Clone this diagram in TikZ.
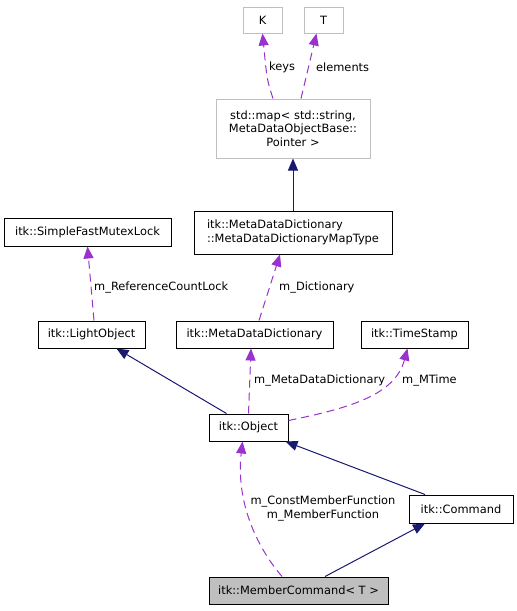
\documentclass[tikz,border=0pt]{standalone}
\usepackage{fontspec}
\setmainfont{DejaVu Sans}
\usetikzlibrary{arrows.meta}

\definecolor{edgeblue}{HTML}{191970}
\definecolor{edgepurple}{HTML}{9A32CD}
\definecolor{boxgray}{HTML}{BFBFBF}

\begin{document}
\begin{tikzpicture}[x=1pt, y=-1pt,
	font=\fontsize{11.4}{13.5}\selectfont,
	cls/.style={draw=black, line width=1pt, fill=white, inner sep=0pt, align=center},
	ext/.style={cls, draw=boxgray},
	cur/.style={cls, fill=boxgray},
	lbl/.style={inner sep=0pt, anchor=west},
	inherit/.style={edgeblue, line width=1pt, -{Triangle[length=12pt,width=10pt]}},
	uses/.style={edgepurple, line width=1pt, dash pattern=on 8pt off 5pt, -{Triangle[length=12pt,width=10pt]}}]
	
	\useasboundingbox (0,0) rectangle (517,611);
	
	% draw classes
	\node[ext, minimum width=39pt, minimum height=26pt] (K) at (262.5,20) {K};
	\node[ext, minimum width=39pt, minimum height=26pt] (T) at (323.5,20) {T};
	\node[ext, minimum width=154pt, minimum height=59pt] (map) at (293,128.5) {std::map< std::string,\\MetaDataObjectBase::\\Pointer >};
	\node[cls, minimum width=198pt, minimum height=43pt, align=left] (maptype) at (293,232.5) {itk::MetaDataDictionary\\::MetaDataDictionaryMapType};
	\node[cls, minimum width=167pt, minimum height=28pt] (mutex) at (87.5,232) {itk::SimpleFastMutexLock};
	\node[cls, minimum width=107pt, minimum height=27pt] (light) at (91.5,334.5) {itk::LightObject};
	\node[cls, minimum width=157pt, minimum height=27pt] (dict) at (254.5,334.5) {itk::MetaDataDictionary};
	\node[cls, minimum width=107pt, minimum height=27pt] (stamp) at (414.5,334.5) {itk::TimeStamp};
	\node[cls, minimum width=79pt, minimum height=27pt] (object) at (248.5,427.5) {itk::Object};
	\node[cls, minimum width=104pt, minimum height=28pt] (command) at (461,509) {itk::Command};
	\node[cur, minimum width=179pt, minimum height=27pt] (member) at (298.5,590.5) {itk::MemberCommand< T >};
	
	% draw inheritance
	\draw[inherit] (maptype.north) -- (map.south);
	\draw[inherit] ([xshift=-22pt]object.north) -- ([xshift=25pt]light.south);
	\draw[inherit] ([xshift=-36pt]command.north) -- ([xshift=-3pt]object.south east);
	\draw[inherit] ([xshift=26.5pt]member.north) -- ([xshift=-36pt]command.south);
	
	% draw members
	\draw[uses] ([xshift=-20pt]map.north) .. controls (267,80) .. (K.south);
	\draw[uses] ([xshift=8pt]map.north) -- ([xshift=-7pt]T.south);
	\draw[uses] ([xshift=2.5pt]light.north) -- (mutex.south);
	\draw[uses] ([xshift=4.5pt]dict.north) -- ([xshift=-13pt]maptype.south);
	\draw[uses] (object.north) -- ([xshift=-3.5pt]dict.south);
	\draw[uses] ([yshift=7pt]object.east) .. controls (350,408) and (395,395) .. ([xshift=-7pt]stamp.south);
	\draw[uses] ([xshift=-16.5pt]member.north) .. controls (255,545) and (236,500) .. ([xshift=-6pt]object.south);
	
	% draw labels
	\node[lbl] (lkeys) at (269,67) {keys};
	\node[lbl] (lelements) at (316,67) {elements};
	\node[lbl] (llock) at (94,288) {m\_ReferenceCountLock};
	\node[lbl] (ldict) at (279,288) {m\_Dictionary};
	\node[lbl] (lmeta) at (254,381) {m\_MetaDataDictionary};
	\node[lbl] (ltime) at (402,381) {m\_MTime};
	\node[inner sep=0pt, align=center] (lfunc) at (323,508.5) {m\_ConstMemberFunction\\m\_MemberFunction};
\end{tikzpicture}
\end{document}
